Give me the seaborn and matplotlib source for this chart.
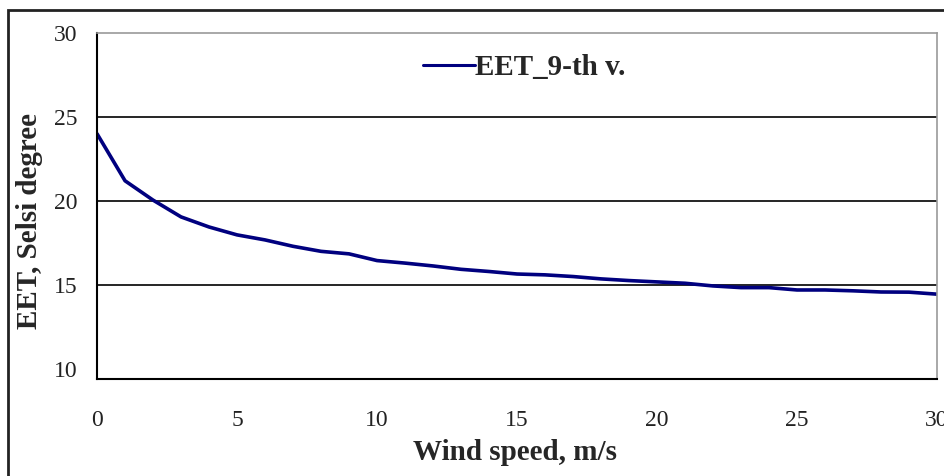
import numpy as np
import pandas as pd
import matplotlib
matplotlib.use("Agg")
import matplotlib.pyplot as plt
import seaborn as sns
from matplotlib.patches import Rectangle

# data
wind_speed = [0, 1, 2, 3, 4, 5, 6, 7, 8, 9, 10, 11, 12, 13, 14, 15,
              16, 17, 18, 19, 20, 21, 22, 23, 24, 25, 26, 27, 28, 29, 30]
eet_values = [24.0, 21.2, 20.05, 19.05, 18.45, 17.98, 17.68, 17.3, 17.0, 16.85,
              16.45, 16.3, 16.13, 15.93, 15.8, 15.65, 15.6, 15.5, 15.36, 15.26,
              15.18, 15.1, 14.94, 14.84, 14.84, 14.7, 14.7, 14.65, 14.58, 14.57,
              14.45]
series_name = "EET_9-th v."
x_ticks = [0, 5, 10, 15, 20, 25, 30]
y_ticks = [10, 15, 20, 25, 30]

df = pd.DataFrame({"Wind speed": wind_speed, "EET": eet_values})

sns.set_style("white")
plt.rcParams["font.family"] = ["Liberation Serif", "DejaVu Serif"]

fig = plt.figure(figsize=(9.44, 4.76), dpi=100)
ax = fig.add_axes([0.1028, 0.2038, 0.8898, 0.7269])

sns.lineplot(data=df, x="Wind speed", y="EET", color="#00007f", lw=2.6,
             label=series_name, ax=ax)

ax.set_xlim(0, 30)
ax.set_ylim(9.4, 30)
ax.set_xticks(x_ticks)
ax.set_yticks(y_ticks)

# horizontal grid lines only at the inner ticks
ax.yaxis.grid(True, color="black", lw=1.2)
ticks = ax.yaxis.get_major_ticks()
ticks[0].gridline.set_visible(False)
ticks[-1].gridline.set_visible(False)

ax.tick_params(axis="x", direction="in", length=9, width=1.5, color="black",
               pad=22, labelsize=17, labelcolor="#222222")
ax.tick_params(axis="y", length=0, pad=14, labelsize=17, labelcolor="#222222")

for side in ["left", "bottom"]:
    ax.spines[side].set_color("black")
    ax.spines[side].set_linewidth(1.5)
for side in ["top", "right"]:
    ax.spines[side].set_color("#999999")
    ax.spines[side].set_linewidth(1.2)

ax.set_xlabel("Wind speed, m/s", fontsize=21, fontweight="bold")
ax.set_ylabel("EET, Selsi degree", fontsize=21, fontweight="bold")
ax.xaxis.set_label_coords(0.4976, -0.172)
ax.yaxis.set_label_coords(-0.064, 0.457)

leg = ax.legend(loc="center left", bbox_to_anchor=(0.388, 0.90), frameon=False,
                borderpad=0, borderaxespad=0,
                handlelength=1.78, handletextpad=0.0,
                prop={"size": 21, "weight": "bold"})
leg.get_lines()[0].set_linewidth(2.2)

# outer chart border
fig.patches.append(Rectangle((8 / 944, -0.1), 1.2, 1.1 - 10 / 476,
                             transform=fig.transFigure, fill=False,
                             edgecolor="#222222", lw=2))

fig.savefig("out.png", dpi=100)
